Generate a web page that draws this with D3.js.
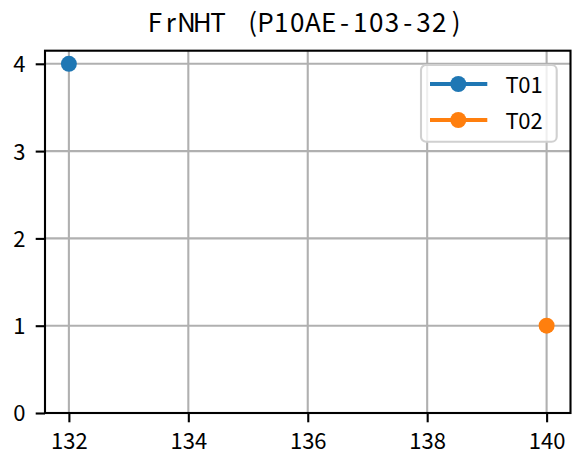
<!DOCTYPE html>
<html><head><meta charset="utf-8">
<script src="https://cdn.jsdelivr.net/npm/d3@7"></script>
<style>body{margin:0;background:#fff}svg{display:block}text{font-family:"Noto Sans CJK JP","DejaVu Sans",sans-serif}</style>
</head><body>
<script>
const title = "FrNHT (P10AE-103-32)";
const seriesNames = ["T01", "T02"];
const seriesColors = ["#1f77b4", "#ff7f0e"];
const seriesX = [[132], [140]];
const seriesY = [[4], [1]];
const xTicks = [132, 134, 136, 138, 140];
const yTicks = [0, 1, 2, 3, 4];

const W = 572, H = 455;
const m = {left: 45, right: 1.5, top: 50.7, bottom: 42};
const LW = 2.1;
const svg = d3.select("body").append("svg").attr("width", W).attr("height", H);
const x = d3.scaleLinear().domain([131.6, 140.4]).range([m.left, W - m.right]);
const y = d3.scaleLinear().domain([0, 4.15]).range([H - m.bottom, m.top]);

// monospace-cell text helper: each character centred in a fixed-width cell
function monoText(sel, str, x0, cell) {
  const chars = Array.from(str);
  const shift = c => c === "(" ? 3 : (c === ")" ? 1 : 0);
  sel.attr("x", chars.map((c, i) => (x0 + cell * (i + 0.5) + shift(c)).toFixed(2)).join(" "))
     .attr("text-anchor", "middle").text(str);
  return sel;
}

const g = svg.append("g");
g.selectAll(".gx").data(xTicks).join("line")
  .attr("x1", d => x(d)).attr("x2", d => x(d)).attr("y1", y(0)).attr("y2", y(4.15))
  .attr("stroke", "#b0b0b0").attr("stroke-width", LW);
g.selectAll(".gy").data(yTicks).join("line")
  .attr("y1", d => y(d)).attr("y2", d => y(d)).attr("x1", x(131.6)).attr("x2", x(140.4))
  .attr("stroke", "#b0b0b0").attr("stroke-width", LW);

const xa = svg.append("g").attr("transform", `translate(0,${y(0)})`)
  .call(d3.axisBottom(x).tickValues(xTicks).tickSize(9.3).tickFormat(d3.format("d")));
const ya = svg.append("g").attr("transform", `translate(${x(131.6)},0)`)
  .call(d3.axisLeft(y).tickValues(yTicks).tickSize(9.3).tickFormat(d3.format("d")));
[xa, ya].forEach(a => {
  a.select(".domain").remove();
  a.selectAll(".tick line").attr("stroke", "#000").attr("stroke-width", LW);
  a.selectAll(".tick text").attr("fill", "#000").style("font-size", "22px");
});
xa.selectAll(".tick text").attr("y", 36.4).attr("dy", 0);
ya.selectAll(".tick text").attr("x", -19.5).attr("dy", "0.36em");

svg.append("rect").attr("x", x(131.6)).attr("y", y(4.15))
  .attr("width", x(140.4) - x(131.6)).attr("height", y(0) - y(4.15))
  .attr("fill", "none").attr("stroke", "#000").attr("stroke-width", LW);

seriesNames.forEach((n, i) => {
  const pts = seriesX[i].map((v, j) => [v, seriesY[i][j]]);
  svg.append("path").datum(pts).attr("fill", "none").attr("stroke", seriesColors[i]).attr("stroke-width", 4)
    .attr("d", d3.line().x(d => x(d[0])).y(d => y(d[1])));
  svg.selectAll(null).data(pts).join("circle")
    .attr("cx", d => x(d[0])).attr("cy", d => y(d[1])).attr("r", 8).attr("fill", seriesColors[i]);
});

monoText(svg.append("text").attr("y", 32.3).style("font-size", "26px"), title, 147, 15.8);

const lg = svg.append("g").attr("transform", "translate(421,65)");
lg.append("rect").attr("width", 135.7).attr("height", 76.7).attr("rx", 5)
  .attr("fill", "#fff").attr("fill-opacity", 0.8).attr("stroke", "#d0d0d0").attr("stroke-width", LW);
seriesNames.forEach((n, i) => {
  const cy = 19 + i * 36;
  lg.append("line").attr("x1", 9).attr("x2", 66.3).attr("y1", cy).attr("y2", cy)
    .attr("stroke", seriesColors[i]).attr("stroke-width", 4);
  lg.append("circle").attr("cx", 37.3).attr("cy", cy).attr("r", 8).attr("fill", seriesColors[i]);
  monoText(lg.append("text").attr("y", cy + 8.5).style("font-size", "22px"), n, 85, 12.2);
});
</script>
</body></html>
